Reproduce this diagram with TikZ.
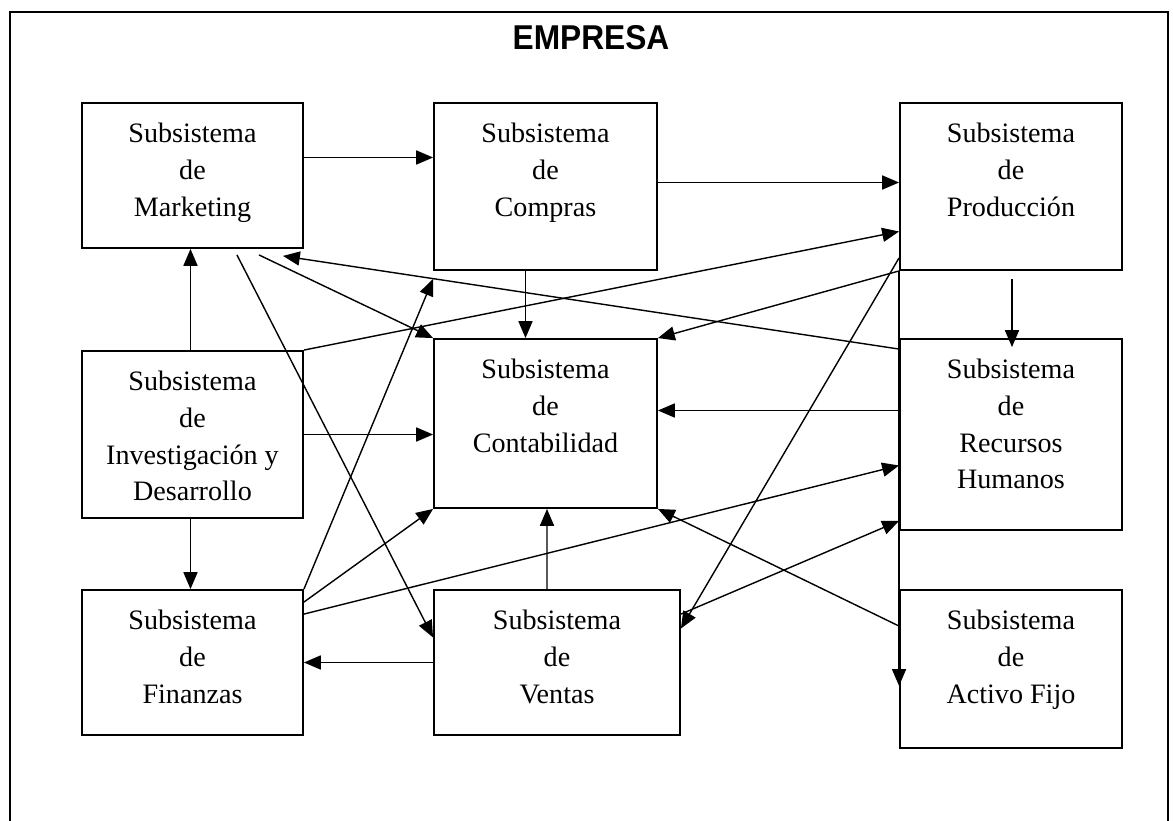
\documentclass[tikz,border=0pt]{standalone}
\usepackage{fontspec}
\setmainfont{Liberation Serif}
\newfontfamily\titulofont{Liberation Sans}
\usetikzlibrary{arrows.meta, calc}

\begin{document}
\begin{tikzpicture}[
    x=0.025cm, y=-0.025cm,
    caja/.style={rectangle, draw, line width=1.3pt, minimum width=5.525cm, minimum height=3.625cm},
    texto/.style={anchor=north, yshift=-12pt, align=center, inner sep=3pt,
                  font=\fontsize{20}{26}\selectfont},
    flecha/.style={-{Triangle[length=12pt, width=10pt]}, line width=1pt},
    marco/.style={line width=1.4pt}
]
\useasboundingbox (0,0) rectangle (1173,821);

% --- Marco y titulo ---
\draw[marco] (10,821) -- (10,12) -- (1168,12) -- (1168,821);
\node[font=\titulofont\bfseries\fontsize{24.5}{28}\selectfont] (empresa) at (591,37.5)
     {\scalebox{0.92}[1]{EMPRESA}};

% --- Subsistemas ---
\node[caja, label={[texto]north:Subsistema\\de\\Marketing}] (mkt) at (192.5,175.5) {};
\node[caja, minimum width=5.575cm, minimum height=4.175cm,
      label={[texto]north:Subsistema\\de\\Compras}] (compras) at (545.5,186.5) {};
\node[caja, minimum width=5.55cm, minimum height=4.175cm,
      label={[texto]north:Subsistema\\de\\Producción}] (prod) at (1011,186.5) {};
\node[caja, minimum width=5.575cm, minimum height=4.225cm,
      label={[texto]north:Subsistema\\de\\Contabilidad}] (conta) at (545.5,423.5) {};
\node[caja, minimum height=4.175cm,
      label={[texto]north:Subsistema\\de\\Investigación y\\Desarrollo}] (iyd) at (192.5,434.5) {};
\node[caja, minimum width=5.55cm, minimum height=4.775cm,
      label={[texto]north:Subsistema\\de\\Recursos\\Humanos}] (rrhh) at (1011,434.5) {};
\node[caja, label={[texto]north:Subsistema\\de\\Finanzas}] (fin) at (192.5,662.5) {};
\node[caja, minimum width=6.15cm,
      label={[texto]north:Subsistema\\de\\Ventas}] (ventas) at (557,662.5) {};
\node[caja, minimum width=5.55cm, minimum height=3.95cm,
      label={[texto]north:Subsistema\\de\\Activo Fijo}] (activo) at (1011,669) {};

% --- Flechas rectas ---
\draw[flecha] ($(mkt.east)+(0,-18)$) -- ($(compras.west)+(0,-29)$);
\draw[flecha] ($(compras.east)+(0,-4)$) -- ($(prod.west)+(0,-4)$);
\draw[flecha] ($(compras.south)+(-20,0)$) -- ($(conta.north)+(-20,0)$);
\draw[flecha] ($(prod.south)+(1,8)$) -- ($(rrhh.north)+(1,9)$);
\draw[flecha] ($(iyd.north)+(-2,0)$) -- ($(mkt.south)+(-2,0)$);
\draw[flecha] ($(iyd.south)+(-2,0)$) -- ($(fin.north)+(-2,0)$);
\draw[flecha] (iyd.east) -- ($(conta.west)+(0,11)$);
\draw[flecha] ($(rrhh.west)+(0,-24)$) -- ($(conta.east)+(0,-13)$);
\draw[flecha] ($(ventas.north)+(-10,0)$) -- ($(conta.south)+(1.5,0)$);
\draw[flecha] (ventas.west) -- (fin.east);

% --- Flechas diagonales ---
\draw[flecha] (iyd.north east) -- ($(prod.west)+(0,45)$);
\draw[flecha] ($(rrhh.north west)+(0,11)$) -- ($(mkt.south east)+(-21,7)$);
\draw[flecha] ($(mkt.south east)+(-45,6)$) -- (conta.north west);
\draw[flecha] ($(mkt.south east)+(-67,6)$) -- ($(ventas.west)+(0,-25)$);
\draw[flecha] (fin.north east) -- ($(compras.south west)+(0,8)$);
\draw[flecha] ($(fin.north east)+(0,13)$) -- (conta.south west);
\draw[flecha] ($(fin.north east)+(0,25)$) -- ($(rrhh.west)+(0,31)$);
\draw[flecha] (prod.south west) -- (conta.north east);
\draw[flecha] ($(prod.south west)+(0,-13)$) -- ($(ventas.east)+(0,-34)$);
\draw[flecha] ($(ventas.north east)+(0,25)$) -- ($(rrhh.south west)+(0,-10)$);
\draw[flecha] ($(activo.north west)+(0,37)$) -- (conta.south east);
\draw[flecha] (prod.south west) -- ($(activo.south west)+(0,-63)$);
\end{tikzpicture}
\end{document}
